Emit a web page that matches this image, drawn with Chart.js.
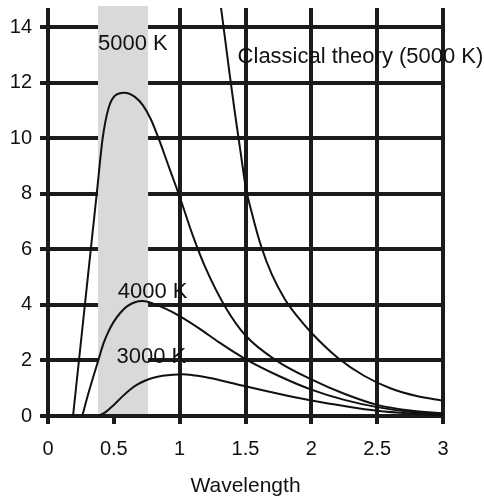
<!DOCTYPE html>
<html>
<head>
<meta charset="utf-8">
<title>Blackbody radiation</title>
<script src="https://cdn.jsdelivr.net/npm/chart.js@4.4.1/dist/chart.umd.min.js"></script>
<style>
  html, body { margin: 0; padding: 0; background: #fff; }
  #wrap { width: 484px; height: 499px; }
</style>
</head>
<body>
<div id="wrap"><canvas id="radChart" width="484" height="499"></canvas></div>
<script>
// Wavelength / intensity values
const k5000X = [0.19, 0.235, 0.28, 0.325, 0.37, 0.415, 0.46, 0.51, 0.58, 0.66, 0.72, 0.78, 0.84, 0.92, 1.0, 1.1, 1.2, 1.35, 1.5, 1.75, 2.0, 2.25, 2.5, 2.75, 3.0];
const k5000Y = [0, 2, 4, 6, 8, 10, 11.1, 11.55, 11.65, 11.5, 11.2, 10.7, 10.0, 8.95, 7.9, 6.5, 5.3, 3.9, 2.9, 1.95, 1.32, 0.8, 0.4, 0.2, 0.1];

const k4000X = [0.26, 0.3, 0.34, 0.385, 0.42, 0.46, 0.5, 0.55, 0.6, 0.66, 0.72, 0.8, 0.9, 1.0, 1.15, 1.3, 1.5, 1.75, 2.0, 2.25, 2.5, 2.75, 3.0];
const k4000Y = [0, 0.7, 1.35, 2.05, 2.6, 3.05, 3.4, 3.72, 3.95, 4.1, 4.14, 4.05, 3.85, 3.6, 3.15, 2.65, 2.05, 1.45, 0.95, 0.58, 0.32, 0.15, 0.06];

const k3000X = [0.385, 0.44, 0.5, 0.56, 0.62, 0.68, 0.74, 0.8, 0.87, 0.95, 1.02, 1.1, 1.2, 1.3, 1.5, 1.75, 2.0, 2.25, 2.5, 2.75, 3.0];
const k3000Y = [0, 0.15, 0.4, 0.68, 0.94, 1.14, 1.28, 1.38, 1.45, 1.49, 1.5, 1.47, 1.4, 1.3, 1.07, 0.8, 0.56, 0.36, 0.19, 0.09, 0.03];

const classicalX = [1.3, 1.32, 1.35, 1.38, 1.42, 1.46, 1.5, 1.56, 1.62, 1.7, 1.8, 1.9, 2.0, 2.2, 2.4, 2.6, 2.8, 3.0];
const classicalY = [15.2, 14.5, 13.4, 12.3, 10.9, 9.6, 8.3, 7.1, 6.1, 5.1, 4.2, 3.55, 3.0, 2.1, 1.45, 1.0, 0.72, 0.55];

const xTickValues = [0, 0.5, 1, 1.5, 2, 2.5, 3];
const yTickValues = [0, 2, 4, 6, 8, 10, 12, 14];

const visibleBand = [0.38, 0.76]; // shaded visible range

const curveNames = ["5000 K", "4000 K", "3000 K", "Classical theory (5000 K)"];

// where the curve names sit (data coords, left edge / middle)
const labelSpots = [[0.38, 13.4], [0.53, 4.47], [0.52, 2.13], [1.44, 12.93]];

const FONT = "'Liberation Sans', Arial, Helvetica, sans-serif";
const INK = "#1b1b1b";

function toPoints(xs, ys) {
  return xs.map((x, i) => ({ x: x, y: ys[i] }));
}

// grey band sits on top of the grid but under the curves
const bandPlugin = {
  id: "band",
  beforeDatasetsDraw(chart) {
    const { ctx, chartArea, scales } = chart;
    const x0 = scales.x.getPixelForValue(visibleBand[0]);
    const x1 = scales.x.getPixelForValue(visibleBand[1]);
    const yb = scales.y.getPixelForValue(0) - 2;
    ctx.save();
    ctx.fillStyle = "#d8dad9";
    ctx.fillRect(x0, chartArea.top - 2, x1 - x0, yb - chartArea.top + 2);
    ctx.restore();
  }
};

// curve names
const namePlugin = {
  id: "names",
  afterDatasetsDraw(chart) {
    const { ctx, scales } = chart;
    ctx.save();
    ctx.font = "22px " + FONT;
    ctx.fillStyle = "#111";
    ctx.textAlign = "left";
    ctx.textBaseline = "middle";
    curveNames.forEach((name, i) => {
      ctx.fillText(name, scales.x.getPixelForValue(labelSpots[i][0]), scales.y.getPixelForValue(labelSpots[i][1]));
    });
    ctx.restore();
  }
};

const lineStyle = {
  borderColor: "#111",
  borderWidth: 2,
  pointRadius: 0,
  fill: false,
  cubicInterpolationMode: "monotone"
};

new Chart(document.getElementById("radChart"), {
  type: "line",
  data: {
    datasets: [
      Object.assign({ label: curveNames[0], data: toPoints(k5000X, k5000Y) }, lineStyle),
      Object.assign({ label: curveNames[1], data: toPoints(k4000X, k4000Y) }, lineStyle),
      Object.assign({ label: curveNames[2], data: toPoints(k3000X, k3000Y) }, lineStyle),
      Object.assign({ label: curveNames[3], data: toPoints(classicalX, classicalY) }, lineStyle)
    ]
  },
  options: {
    responsive: false,
    animation: false,
    layout: { padding: { top: 8, right: 41, left: 0, bottom: 0 } },
    plugins: {
      legend: { display: false },
      tooltip: { enabled: false }
    },
    scales: {
      x: {
        type: "linear",
        min: 0,
        max: 3,
        afterFit: s => { s.height = 83; s.paddingLeft = 0; s.paddingRight = 0; },
        afterBuildTicks: s => { s.ticks = xTickValues.map(v => ({ value: v })); },
        ticks: { color: "#111", padding: 13, maxRotation: 0, autoSkip: false, callback: v => String(v), font: { family: FONT, size: 20 } },
        grid: { color: INK, lineWidth: 4, tickLength: 8 },
        border: { display: false },
        title: { display: true, text: "Wavelength", color: "#111", padding: 0, font: { family: FONT, size: 21 } }
      },
      y: {
        min: 0,
        max: 14.7,
        afterFit: s => { s.width = 48; s.paddingTop = 0; s.paddingBottom = 0; },
        afterBuildTicks: s => { s.ticks = yTickValues.map(v => ({ value: v })); },
        ticks: { color: "#111", padding: 8, autoSkip: false, font: { family: FONT, size: 20 } },
        grid: { color: INK, lineWidth: 4, tickLength: 8 },
        border: { display: false }
      }
    }
  },
  plugins: [bandPlugin, namePlugin]
});
</script>
</body>
</html>
